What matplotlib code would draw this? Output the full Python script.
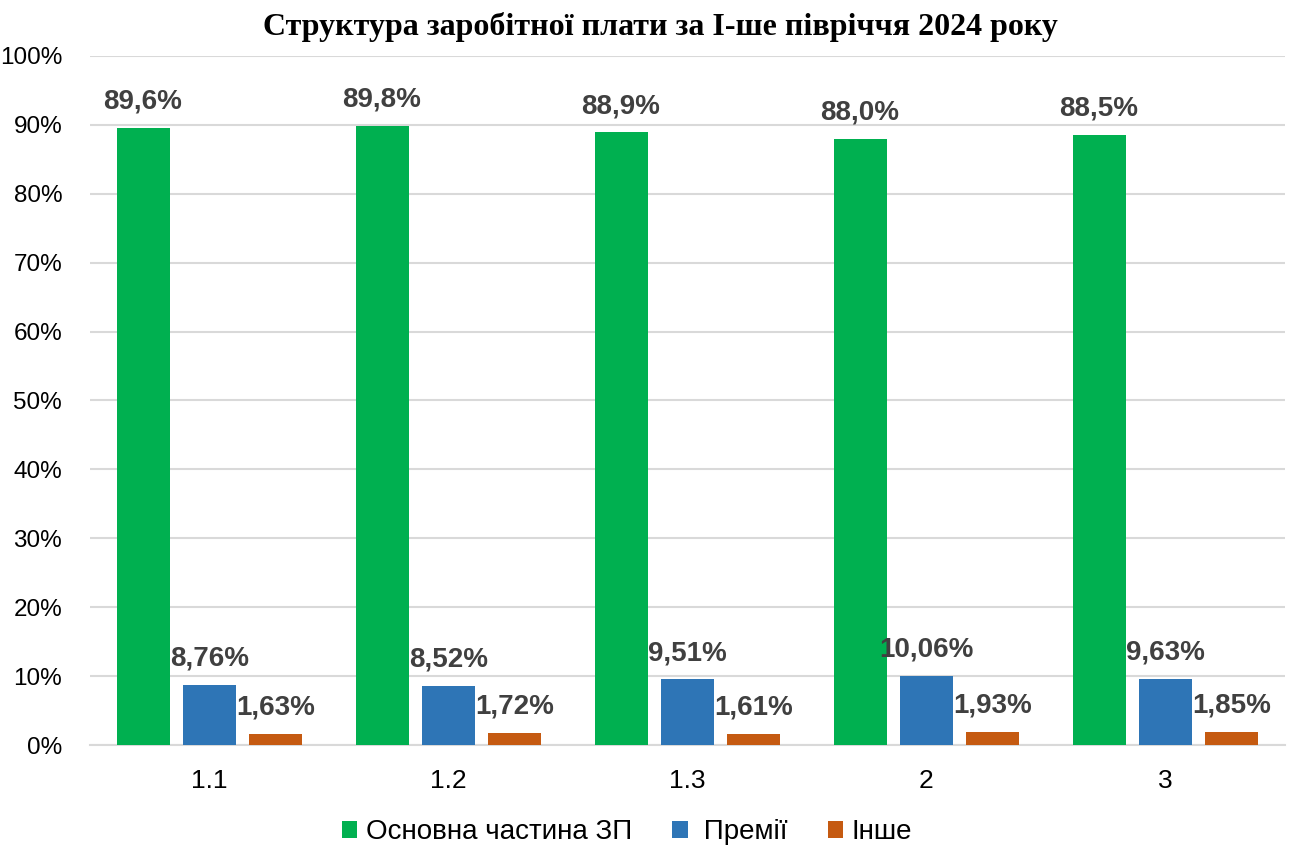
import matplotlib
matplotlib.use("Agg")
import matplotlib.pyplot as plt
import numpy as np

categories = ["1.1", "1.2", "1.3", "2", "3"]
series_names = ["Основна частина ЗП", "Премії", "Інше"]
basic = [89.6, 89.8, 88.9, 88.0, 88.5]
bonus = [8.76, 8.52, 9.51, 10.06, 9.63]
other = [1.63, 1.72, 1.61, 1.93, 1.85]
decimals = [1, 2, 2]
colors = ["#00B050", "#2E75B6", "#C55A11"]
title = "Структура заробітної плати за І-ше півріччя 2024 року"

plt.rcParams['font.family'] = ['Liberation Sans', 'DejaVu Sans']

fig = plt.figure(figsize=(12.92, 8.47), dpi=100)
ax = fig.add_axes([90/1292, 1-745/847, 1195/1292, (745-56)/847])

x = np.arange(len(categories))
width = 0.222
step = 0.278
handles = []
for i, (vals, col, name, dec) in enumerate(zip([basic, bonus, other], colors, series_names, decimals)):
    pos = x + (i - 1) * step
    b = ax.bar(pos, vals, width, color=col, label=name, zorder=3)
    handles.append(b)
    for p, v in zip(pos, vals):
        txt = f"{v:.{dec}f}".replace(".", ",") + "%"
        ax.annotate(txt, (p, v), xytext=(0, 19.0), textcoords="offset points",
                    ha="center", va="center", fontsize=20, fontweight="bold",
                    color="#404040", zorder=4)

ax.set_xlim(-0.5, len(categories) - 0.5)
ax.set_ylim(0, 100)
ax.set_yticks(np.arange(0, 101, 10))
ax.set_yticklabels([f"{t}%" for t in range(0, 101, 10)], fontsize=17.5)
ax.set_xticks(x)
ax.set_xticklabels(categories, fontsize=19)
ax.tick_params(axis="both", length=0, colors="black")
ax.tick_params(axis="y", pad=20)
ax.tick_params(axis="x", pad=17)
ax.grid(axis="y", color="#D9D9D9", linewidth=1.5, zorder=0)
for s in ["top", "right", "left"]:
    ax.spines[s].set_visible(False)
ax.spines["bottom"].set_color("#D9D9D9")
ax.spines["bottom"].set_linewidth(1.5)

fig.text(660/1292, 1-27/847, title, ha="center", va="center", fontsize=23,
         fontweight="bold", family=["Liberation Serif", "DejaVu Serif"])

legend_labels = [series_names[0], " " + series_names[1], series_names[2]]
fig.legend(handles=handles, labels=legend_labels, loc="center",
           bbox_to_anchor=(627/1292, 1-832/847), ncol=3, frameon=False,
           fontsize=20, handlelength=0.55, handleheight=0.55, columnspacing=1.45,
           handletextpad=0.3)

fig.savefig("out.png", dpi=100)
